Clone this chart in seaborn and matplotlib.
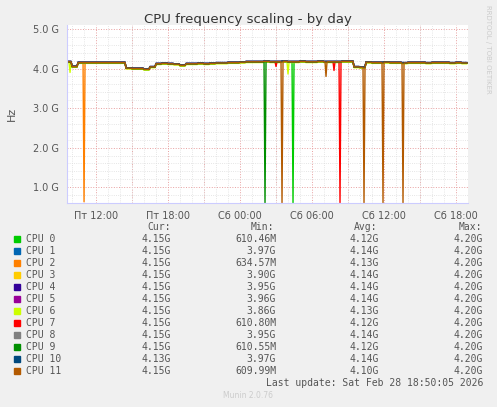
import numpy as np
import pandas as pd
import matplotlib
matplotlib.use("Agg")
import matplotlib.pyplot as plt
import seaborn as sns
from matplotlib.patches import Rectangle

# 30-minute readings of the common level (GHz), hours since Fri 00:00, starting 09:30
base_start = 9.5
base_ghz = [4.17, 4.05, 4.15, 4.15, 4.15, 4.15, 4.15, 4.15, 4.15, 4.15,
            4.01, 4.00, 4.00, 3.98, 4.04, 4.12, 4.13, 4.12, 4.11, 4.08,
            4.12, 4.12, 4.13, 4.12, 4.13, 4.14, 4.14, 4.15, 4.15, 4.16,
            4.17, 4.17, 4.17, 4.18, 4.17, 4.17, 4.18, 4.17, 4.17, 4.18,
            4.17, 4.17, 4.18, 4.17, 4.17, 4.17, 4.18, 4.18, 4.04, 4.03,
            4.16, 4.15, 4.15, 4.16, 4.15, 4.15, 4.14, 4.15, 4.15, 4.15,
            4.14, 4.15, 4.15, 4.15, 4.14, 4.15, 4.14]
cpu_names = [f"CPU {i}" for i in range(12)]
cpu_colors = ["#00cc00", "#0066b3", "#ff8000", "#ffcc00", "#330099", "#990099",
              "#ccff00", "#ff0000", "#808080", "#008f00", "#00487d", "#b35a00"]
cpu_offset = [0.00, 0.01, -0.01, 0.005, -0.005, 0.01, -0.02, 0.0, 0.005, -0.005, 0.01, 0.0]
# (hour, GHz) sharp drops per CPU
cpu_dips = {
    0: [(28.4, 0.61)],
    2: [(11.0, 0.63)],
    6: [(9.8, 3.9), (28.0, 3.86)],
    7: [(27.0, 4.05), (32.3, 0.61), (31.8, 3.95)],
    9: [(26.1, 0.61)],
    11: [(27.5, 0.61), (31.2, 3.8), (34.3, 0.61), (35.9, 0.61), (37.6, 0.61)],
}
cur = ["4.15G"] * 10 + ["4.13G", "4.15G"]
mins = ["610.46M", "3.97G", "634.57M", "3.90G", "3.95G", "3.96G", "3.86G",
        "610.80M", "3.95G", "610.55M", "3.97G", "609.99M"]
avgs = ["4.12G", "4.14G", "4.13G", "4.14G", "4.14G", "4.14G", "4.13G",
        "4.12G", "4.14G", "4.12G", "4.14G", "4.10G"]
maxs = ["4.20G"] * 12
tick_hours = [12, 18, 24, 30, 36, 42]
tick_labels = ["Пт 12:00", "Пт 18:00", "Сб 00:00", "Сб 06:00", "Сб 12:00", "Сб 18:00"]

step = 5 / 60
level = np.repeat(base_ghz, 6)
hours = base_start + step * np.arange(len(level))
rows = []
for i, name in enumerate(cpu_names):
    v = level + cpu_offset[i]
    for h, d in cpu_dips.get(i, []):
        v[int(round((h - base_start) / step))] = d
    rows.append(pd.DataFrame({"hour": hours, "ghz": v, "cpu": name}))
df = pd.concat(rows)

sns.set_style("white")
plt.rcParams["font.family"] = ["DejaVu Sans"]
fig = plt.figure(figsize=(4.97, 4.07), dpi=100, facecolor="#f0f0f0")
ax = fig.add_axes([67 / 497, 1 - 203 / 407, 401 / 497, 178 / 407])
ax.set_facecolor("white")
sns.lineplot(data=df, x="hour", y="ghz", hue="cpu", palette=cpu_colors,
             linewidth=1.0, legend=False, ax=ax)
ax.set_xlim(9.58, 43.0)
ax.set_ylim(0.6, 5.1)
ax.set_xticks(tick_hours)
ax.set_xticklabels(tick_labels)
ax.set_xticks(np.arange(10, 43, 1), minor=True)
ax.set_yticks([1, 2, 3, 4, 5])
ax.set_yticklabels(["1.0 G", "2.0 G", "3.0 G", "4.0 G", "5.0 G"])
ax.set_yticks(np.arange(0.6, 5.05, 0.2), minor=True)
ax.grid(which="minor", color="#dddddd", linestyle=":", linewidth=0.6)
for x in np.arange(12, 43, 3):
    ax.axvline(x, color="#e8a0a0", linestyle=":", linewidth=0.7, zorder=0.5)
for y in [1, 2, 3, 4, 5]:
    ax.axhline(y, color="#e8a0a0", linestyle=":", linewidth=0.7, zorder=0.5)
ax.tick_params(axis="both", labelsize=7, colors="#555555", length=2, which="both")
ax.set_xlabel("")
ax.set_ylabel("Hz", fontsize=8, color="#555555", labelpad=12)
for s in ax.spines.values():
    s.set_visible(False)
ax.spines["left"].set_visible(True)
ax.spines["bottom"].set_visible(True)
ax.spines["left"].set_color("#ccccff")
ax.spines["bottom"].set_color("#ccccff")

fig.text(248 / 497, 1 - 19 / 407, "CPU frequency scaling - by day", ha="center",
         va="center", fontsize=9.5, color="#333333")
fig.text(488 / 497, 1 - 5 / 407, "RRDTOOL / TOBI OETIKER", rotation=270, ha="center",
         va="top", fontsize=5, color="#cccccc")

mono = "DejaVu Sans Mono"
fs = 7
def yy(p):
    return 1 - p / 407
for x, lab in [(159, "Cur:"), (262, "Min:"), (366, "Avg:"), (470, "Max:")]:
    fig.text(x / 497, yy(227), lab, ha="center", va="center", family=mono, fontsize=fs, color="#555555")
for i in range(12):
    y = 239 + 12 * i
    fig.patches.append(Rectangle((14 / 497, yy(y + 3)), 6 / 497, 6 / 407,
                                 transform=fig.transFigure, color=cpu_colors[i]))
    fig.text(26 / 497, yy(y), cpu_names[i], ha="left", va="center", family=mono, fontsize=fs, color="#555555")
    for x, col in [(171, cur), (276, mins), (379, avgs), (483, maxs)]:
        fig.text(x / 497, yy(y), col[i], ha="right", va="center", family=mono, fontsize=fs, color="#555555")
fig.text(483 / 497, yy(383), "Last update: Sat Feb 28 18:50:05 2026", ha="right",
         va="center", family=mono, fontsize=fs, color="#555555")
fig.text(248 / 497, yy(396), "Munin 2.0.76", ha="center", va="center", fontsize=5.5, color="#cccccc")

fig.savefig("out.png", dpi=100, facecolor=fig.get_facecolor())
